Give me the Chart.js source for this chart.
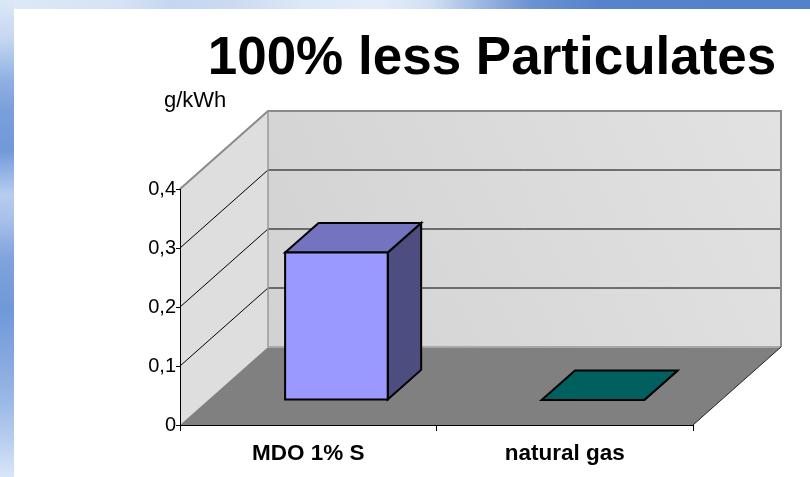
<!DOCTYPE html>
<html>
<head>
<meta charset="utf-8">
<script src="https://cdn.jsdelivr.net/npm/chart.js@4.4.1/dist/chart.umd.min.js"></script>
<style>
  html, body { margin: 0; padding: 0; width: 810px; height: 477px; overflow: hidden; background: #fff; }
  #slide { position: relative; width: 810px; height: 477px; background: #fff; }
  #band-top {
    position: absolute; left: 0; top: 0; width: 810px; height: 9px;
    background: linear-gradient(to right,
      #dde9f8 0px, #d6e3f6 120px, #c6d6ef 170px, #cbdaf1 230px, #dce8f8 300px,
      #e3edfa 380px, #d2e0f4 430px, #9db8e2 480px, #6c93d3 530px, #5583cc 600px, #5282cc 810px);
  }
  #band-left {
    position: absolute; left: 0; top: 0; width: 14px; height: 477px;
    background: linear-gradient(to bottom,
      #dce8f8 0px, #c4d6f0 40px, #8fb0e3 80px, #7a9fdb 110px, #7099d9 150px, #b7cdef 195px,
      #a6c0ea 220px, #7ea2dc 260px, #7099d9 310px, #86a8df 360px, #9ab8e6 400px,
      #b8cef0 440px, #d8e6f8 477px);
  }
  #chart { position: absolute; left: 0; top: 0; }
</style>
</head>
<body>
<div id="slide">
  <div id="band-top"></div>
  <div id="band-left"></div>
  <canvas id="chart" width="810" height="477"></canvas>
</div>
<script>
// Particulate emissions per fuel, g/kWh
const categories = ['MDO 1% S', 'natural gas'];
const particulates = [0.25, 0];
const barColors = ['#9999FF', '#008080'];
const yTicks = [0, 0.1, 0.2, 0.3, 0.4];
const yTickLabels = ['0', '0,1', '0,2', '0,3', '0,4'];
const chartTitle = '100% less Particulates';
const unitLabel = 'g/kWh';

// 3D box geometry: how far the back wall recedes, and where bars sit in depth
const DEPTH_X = 88;
const DEPTH_Y = -78;
const BAR_FRONT = 0.32;
const BAR_BACK = 0.70;
const FONT = "'Liberation Sans', Arial, Helvetica, sans-serif";

function shade(hex, k) {
  const n = parseInt(hex.slice(1), 16);
  const r = Math.round(((n >> 16) & 255) * k);
  const g = Math.round(((n >> 8) & 255) * k);
  const b = Math.round((n & 255) * k);
  return `rgb(${r},${g},${b})`;
}

function poly(ctx, pts, fill, stroke, lw) {
  ctx.beginPath();
  ctx.moveTo(pts[0][0], pts[0][1]);
  for (let i = 1; i < pts.length; i++) ctx.lineTo(pts[i][0], pts[i][1]);
  ctx.closePath();
  if (fill) { ctx.fillStyle = fill; ctx.fill(); }
  if (stroke) { ctx.lineWidth = lw || 1; ctx.strokeStyle = stroke; ctx.stroke(); }
}

function line(ctx, pts, color, lw) {
  ctx.beginPath();
  ctx.moveTo(pts[0][0], pts[0][1]);
  for (let i = 1; i < pts.length; i++) ctx.lineTo(pts[i][0], pts[i][1]);
  ctx.lineWidth = lw; ctx.strokeStyle = color; ctx.stroke();
}

// Faint diagonal dashes used as the wall texture
function texture(ctx, pts, dx, dy, step, horizontal) {
  ctx.save();
  poly(ctx, pts);
  ctx.clip();
  ctx.strokeStyle = 'rgba(255,255,255,0.6)';
  ctx.lineWidth = 1;
  ctx.setLineDash([3, 3]);
  const xs = pts.map(p => p[0]), ys = pts.map(p => p[1]);
  const x0 = Math.min(...xs) - 400, x1 = Math.max(...xs) + 400;
  const y0 = Math.min(...ys) - 400, y1 = Math.max(...ys) + 400;
  ctx.beginPath();
  if (horizontal) {
    for (let y = y0; y < y1; y += step) { ctx.moveTo(x0, y); ctx.lineTo(x0 + dx * 10, y + dy * 10); }
  } else {
    for (let x = x0; x < x1; x += step) { ctx.moveTo(x, y0); ctx.lineTo(x + dx * 10, y0 + dy * 10); }
  }
  ctx.stroke();
  ctx.restore();
}

const boxPlugin = {
  id: 'box3d',
  beforeDraw(chart) {
    const { ctx, chartArea: a, scales: { y } } = chart;
    const L = a.left, R = a.right;
    const B = y.getPixelForValue(yTicks[0]);
    const T = y.getPixelForValue(yTicks[yTicks.length - 1]);
    const dx = DEPTH_X, dy = DEPTH_Y;
    ctx.save();

    // title and unit
    ctx.fillStyle = '#000';
    ctx.textBaseline = 'alphabetic';
    ctx.font = `bold 53px ${FONT}`;
    ctx.textAlign = 'center';
    ctx.fillText(chartTitle, 492, 74);
    ctx.font = `22px ${FONT}`;
    ctx.textAlign = 'left';
    ctx.fillText(unitLabel, 164, 107);

    const side = [[L, B], [L, T], [L + dx, T + dy], [L + dx, B + dy]];
    const back = [[L + dx, T + dy], [R + dx, T + dy], [R + dx, B + dy], [L + dx, B + dy]];
    const floor = [[L, B], [R, B], [R + dx, B + dy], [L + dx, B + dy]];

    poly(ctx, side, '#dedede');
    texture(ctx, side, 1, 4, 7, false);

    const g = ctx.createLinearGradient(L + dx, B + dy, R + dx, T + dy);
    g.addColorStop(0, '#d2d2d2');
    g.addColorStop(1, '#e2e2e2');
    poly(ctx, back, g);
    texture(ctx, back, 10, 4.2, 26, true);

    poly(ctx, floor, '#808080');

    // gridlines across side and back walls
    for (let i = 1; i < yTicks.length - 1; i++) {
      const yy = y.getPixelForValue(yTicks[i]);
      line(ctx, [[L, yy], [L + dx, yy + dy], [R + dx, yy + dy]], '#000', 1);
    }

    // wall edges
    line(ctx, [[L + dx, B + dy], [R + dx, B + dy]], '#a8a8a8', 2);
    line(ctx, [[L, T], [L + dx, T + dy], [R + dx, T + dy], [R + dx, B + dy]], '#8a8a8a', 2);
    line(ctx, [[L + dx, T + dy], [L + dx, B + dy]], '#9a9a9a', 1.5);
    line(ctx, [[R, B], [R + dx, B + dy]], '#222', 1);
    ctx.restore();
  },
  beforeDatasetsDraw(chart) {
    const { ctx } = chart;
    const ds = chart.data.datasets[0];
    const meta = chart.getDatasetMeta(0);
    const fx = BAR_FRONT * DEPTH_X, fy = BAR_FRONT * DEPTH_Y;
    const ox = (BAR_BACK - BAR_FRONT) * DEPTH_X, oy = (BAR_BACK - BAR_FRONT) * DEPTH_Y;
    ctx.save();
    ctx.lineJoin = 'miter';
    meta.data.forEach((el, i) => {
      const p = el.getProps(['x', 'y', 'base', 'width'], true);
      const xl = p.x - p.width / 2 + fx, xr = p.x + p.width / 2 + fx;
      const yt = p.y + fy, yb = p.base + fy;
      const c = ds.backgroundColor[i];
      poly(ctx, [[xr, yb], [xr, yt], [xr + ox, yt + oy], [xr + ox, yb + oy]], shade(c, 0.5), '#000', 2);
      poly(ctx, [[xl, yt], [xr, yt], [xr + ox, yt + oy], [xl + ox, yt + oy]], shade(c, 0.75), '#000', 2);
      if (yb - yt > 0.5) poly(ctx, [[xl, yb], [xl, yt], [xr, yt], [xr, yb]], c, '#000', 2);
    });
    ctx.restore();
    return false;
  }
};

new Chart(document.getElementById('chart'), {
  type: 'bar',
  data: {
    labels: categories,
    datasets: [{
      label: unitLabel,
      data: particulates,
      backgroundColor: barColors,
      barPercentage: 0.4,
      categoryPercentage: 1
    }]
  },
  options: {
    responsive: false,
    animation: false,
    devicePixelRatio: 1,
    layout: { padding: { left: 0, right: 117, top: 189, bottom: 0 } },
    plugins: { legend: { display: false }, title: { display: false }, tooltip: { enabled: false } },
    scales: {
      x: {
        grid: { offset: true, drawOnChartArea: false, drawTicks: true, tickLength: 6, color: '#000' },
        border: { display: true, color: '#000', width: 1 },
        ticks: { color: '#000', padding: 9, font: { family: FONT, size: 22.5, weight: 'bold' } },
        afterFit(s) { s.height = 52; }
      },
      y: {
        min: yTicks[0],
        max: yTicks[yTicks.length - 1],
        afterBuildTicks(s) { s.ticks = yTicks.map(v => ({ value: v })); },
        grid: { drawOnChartArea: false, drawTicks: true, tickLength: 4, color: '#000' },
        border: { display: true, color: '#000', width: 1 },
        ticks: {
          color: '#000', padding: 0,
          font: { family: FONT, size: 20 },
          callback: (v, i) => yTickLabels[i]
        },
        afterFit(s) { s.width = 180; }
      }
    }
  },
  plugins: [boxPlugin]
});
</script>
</body>
</html>
